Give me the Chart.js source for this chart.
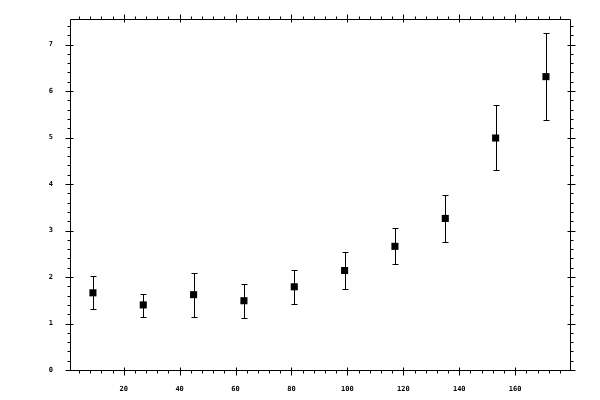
<!DOCTYPE html>
<html>
<head>
<meta charset="utf-8">
<script src="https://cdn.jsdelivr.net/npm/chart.js@4"></script>
<style>
  html, body { margin: 0; padding: 0; background: #fff; }
  #wrap { width: 600px; height: 400px; }
</style>
</head>
<body>
<div id="wrap"><canvas id="myChart" width="600" height="400"></canvas></div>
<script>
// data
var xs    = [9, 27, 45, 63, 81, 99, 117, 135, 153, 171];
var ys    = [1.66, 1.40, 1.62, 1.49, 1.79, 2.14, 2.66, 3.26, 4.99, 6.31];
var yLow  = [1.31, 1.14, 1.14, 1.12, 1.42, 1.75, 2.27, 2.76, 4.30, 5.37];
var yHigh = [2.03, 1.64, 2.09, 1.84, 2.16, 2.53, 3.06, 3.76, 5.69, 7.24];
var xTicks = [20, 40, 60, 80, 100, 120, 140, 160];
var yTicks = [0, 1, 2, 3, 4, 5, 6, 7];

var points = xs.map(function (x, i) { return {x: x, y: ys[i]}; });

// error bars, frame and tick marks, all through the chart scales
var frame = {
  id: "frame",
  beforeDatasetsDraw: function (chart) {
    var ctx = chart.ctx, sx = chart.scales.x, sy = chart.scales.y;
    ctx.save();
    ctx.strokeStyle = "#000";
    ctx.lineWidth = 1;
    ctx.beginPath();
    for (var i = 0; i < xs.length; i++) {
      var px = Math.round(sx.getPixelForValue(xs[i])) + 0.5;
      var lo = Math.round(sy.getPixelForValue(yLow[i])) + 0.5;
      var hi = Math.round(sy.getPixelForValue(yHigh[i])) + 0.5;
      ctx.moveTo(px, lo); ctx.lineTo(px, hi);
      ctx.moveTo(px - 3, lo); ctx.lineTo(px + 3, lo);
      ctx.moveTo(px - 3, hi); ctx.lineTo(px + 3, hi);
    }
    ctx.stroke();
    ctx.restore();
  },
  afterDraw: function (chart) {
    var ctx = chart.ctx, a = chart.chartArea, sx = chart.scales.x, sy = chart.scales.y;
    var L = Math.round(a.left) + 0.5, R = Math.round(a.right) + 0.5;
    var T = Math.round(a.top) + 0.5, B = Math.round(a.bottom) + 0.5;
    ctx.save();
    ctx.strokeStyle = "#000";
    ctx.lineWidth = 1;
    ctx.beginPath();
    ctx.rect(L, T, R - L, B - T);
    var v, p;
    for (v = 4; v < sx.max; v += 4) {
      p = Math.round(sx.getPixelForValue(v)) + 0.5;
      if (v % 20 === 0) {
        ctx.moveTo(p, B - 3); ctx.lineTo(p, B + 5);
        ctx.moveTo(p, T + 3); ctx.lineTo(p, T - 5);
      } else {
        ctx.moveTo(p, B); ctx.lineTo(p, B + 3);
        ctx.moveTo(p, T); ctx.lineTo(p, T - 3);
      }
    }
    for (var k = 0; k <= 37; k++) {
      v = k / 5;
      if (v > sy.max) break;
      p = Math.round(sy.getPixelForValue(v)) + 0.5;
      if (k % 5 === 0) {
        ctx.moveTo(L - 5, p); ctx.lineTo(L + 3, p);
        ctx.moveTo(R + 5, p); ctx.lineTo(R - 3, p);
      } else {
        ctx.moveTo(L - 3, p); ctx.lineTo(L, p);
        ctx.moveTo(R + 3, p); ctx.lineTo(R, p);
      }
    }
    ctx.stroke();
    ctx.restore();
  }
};

new Chart(document.getElementById("myChart"), {
  type: "scatter",
  data: {
    datasets: [{
      data: points,
      pointStyle: "rect",
      pointRadius: 5,
      pointHoverRadius: 5,
      borderWidth: 0,
      backgroundColor: "#000",
      borderColor: "#000"
    }]
  },
  options: {
    responsive: false,
    animation: false,
    events: [],
    layout: { padding: { top: 19, right: 30, left: 0, bottom: 0 } },
    plugins: { legend: { display: false }, tooltip: { enabled: false } },
    scales: {
      x: {
        type: "linear",
        min: 0.8,
        max: 179.6,
        grid: { display: false },
        border: { display: false },
        afterBuildTicks: function (s) { s.ticks = xTicks.map(function (v) { return {value: v}; }); },
        afterFit: function (s) { s.height = 30; },
        ticks: {
          color: "#000",
          padding: 7,
          maxRotation: 0,
          font: { family: "DejaVu Sans Mono", size: 7, weight: "bold" }
        }
      },
      y: {
        type: "linear",
        min: 0,
        max: 7.55,
        grid: { display: false },
        border: { display: false },
        afterBuildTicks: function (s) { s.ticks = yTicks.map(function (v) { return {value: v}; }); },
        afterFit: function (s) { s.width = 70; },
        ticks: {
          color: "#000",
          padding: 9,
          font: { family: "DejaVu Sans Mono", size: 7, weight: "bold" }
        }
      }
    }
  },
  plugins: [frame]
});
</script>
</body>
</html>
